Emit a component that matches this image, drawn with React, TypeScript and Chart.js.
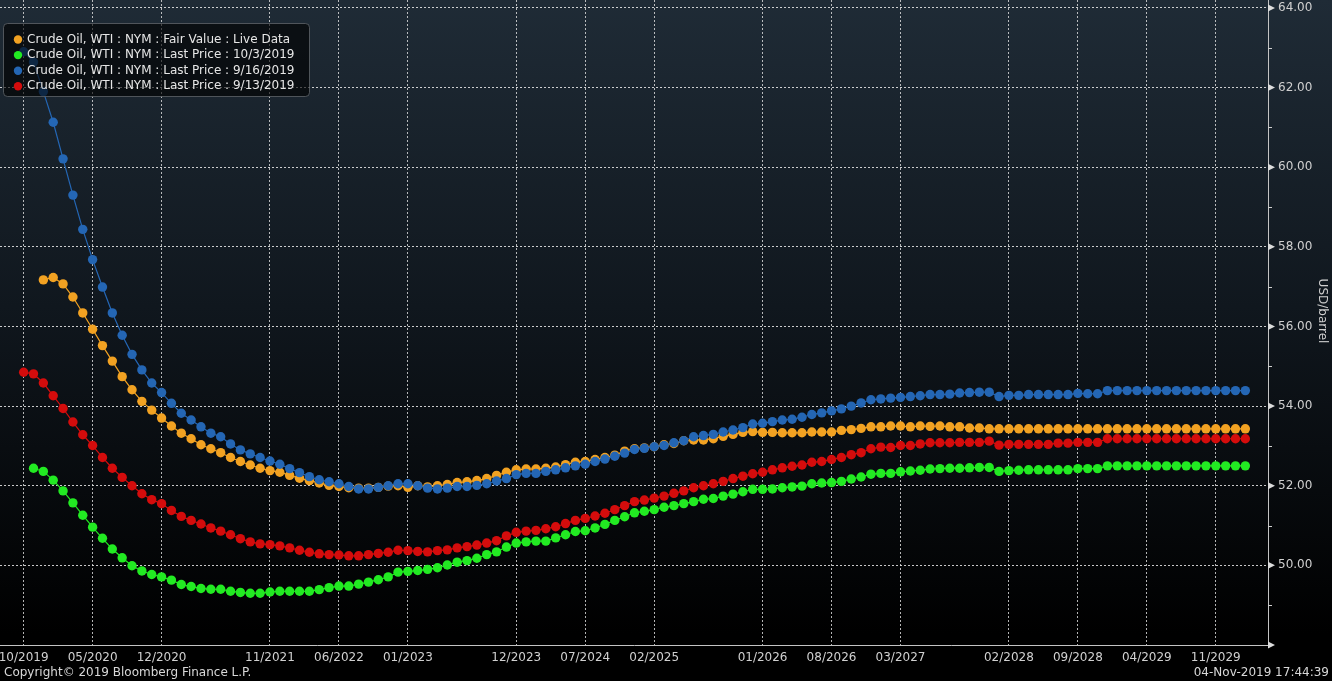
import React, { useEffect, useRef } from 'react';
import { Chart, registerables } from 'chart.js';

Chart.register(...registerables);

// ---- Data (month index 0 = 10/2019) ----
const seriesLabels = [
  'Crude Oil, WTI : NYM : Fair Value : Live Data',
  'Crude Oil, WTI : NYM : Last Price : 10/3/2019',
  'Crude Oil, WTI : NYM : Last Price : 9/16/2019',
  'Crude Oil, WTI : NYM : Last Price : 9/13/2019',
];

const xTickIndex = [0, 7, 14, 25, 32, 39, 50, 57, 64, 75, 82, 89, 100, 107, 114, 121];
const xTickLabels = [
  '10/2019', '05/2020', '12/2020', '11/2021', '06/2022', '01/2023', '12/2023', '07/2024',
  '02/2025', '01/2026', '08/2026', '03/2027', '02/2028', '09/2028', '04/2029', '11/2029',
];

const yTickValues = [48, 49, 50, 51, 52, 53, 54, 55, 56, 57, 58, 59, 60, 61, 62, 63, 64];
const yLabelValues = [50, 52, 54, 56, 58, 60, 62, 64];

const fairValue: (number | null)[] = [
  null, null, 57.17, 57.23, 57.07, 56.74, 56.34, 55.93, 55.52, 55.13,
  54.74, 54.41, 54.12, 53.90, 53.70, 53.50, 53.32, 53.18, 53.03, 52.93,
  52.83, 52.71, 52.61, 52.52, 52.44, 52.38, 52.34, 52.26, 52.19, 52.13,
  52.07, 52.01, 51.98, 51.95, 51.94, 51.94, 51.96, 51.99, 52.00, 51.96,
  52.00, 51.97, 52.00, 52.03, 52.08, 52.10, 52.13, 52.18, 52.26, 52.34,
  52.40, 52.42, 52.42, 52.44, 52.47, 52.53, 52.59, 52.61, 52.66, 52.71,
  52.77, 52.87, 52.93, 52.95, 52.98, 53.03, 53.06, 53.13, 53.15, 53.15,
  53.18, 53.24, 53.29, 53.34, 53.36, 53.34, 53.34, 53.33, 53.33, 53.33,
  53.35, 53.35, 53.35, 53.39, 53.41, 53.44, 53.48, 53.48, 53.50, 53.50,
  53.48, 53.50, 53.49, 53.50, 53.48, 53.48, 53.45, 53.45, 53.43, 53.43,
  53.43, 53.43, 53.43, 53.43, 53.43, 53.43, 53.43, 53.43, 53.43, 53.43,
  53.43, 53.43, 53.43, 53.43, 53.43, 53.43, 53.43, 53.43, 53.43, 53.43,
  53.43, 53.43, 53.43, 53.43, 53.43,
];

const last1003: (number | null)[] = [
  null, 52.44, 52.36, 52.14, 51.87, 51.57, 51.26, 50.96, 50.68, 50.41,
  50.19, 49.99, 49.86, 49.77, 49.71, 49.63, 49.52, 49.47, 49.42, 49.40,
  49.40, 49.35, 49.32, 49.30, 49.30, 49.33, 49.35, 49.35, 49.35, 49.35,
  49.39, 49.44, 49.48, 49.48, 49.53, 49.58, 49.64, 49.71, 49.83, 49.85,
  49.87, 49.90, 49.94, 50.01, 50.08, 50.12, 50.18, 50.27, 50.34, 50.46,
  50.56, 50.59, 50.61, 50.61, 50.69, 50.77, 50.85, 50.87, 50.94, 51.03,
  51.13, 51.22, 51.32, 51.36, 51.40, 51.46, 51.50, 51.55, 51.60, 51.66,
  51.68, 51.74, 51.79, 51.85, 51.91, 51.91, 51.92, 51.95, 51.97, 51.99,
  52.05, 52.07, 52.08, 52.11, 52.17, 52.22, 52.29, 52.31, 52.31, 52.35,
  52.37, 52.39, 52.42, 52.43, 52.44, 52.44, 52.45, 52.46, 52.46, 52.36,
  52.38, 52.39, 52.40, 52.40, 52.40, 52.40, 52.40, 52.43, 52.43, 52.43,
  52.50, 52.50, 52.50, 52.50, 52.50, 52.50, 52.50, 52.50, 52.50, 52.50,
  52.50, 52.50, 52.50, 52.50, 52.50,
];

const last0916: (number | null)[] = [
  62.90, 62.64, 61.90, 61.13, 60.21, 59.30, 58.44, 57.68, 56.99, 56.34,
  55.78, 55.30, 54.91, 54.58, 54.34, 54.07, 53.82, 53.65, 53.48, 53.32,
  53.23, 53.05, 52.90, 52.80, 52.71, 52.62, 52.54, 52.43, 52.33, 52.23,
  52.15, 52.10, 52.05, 51.98, 51.92, 51.92, 51.96, 52.00, 52.05, 52.05,
  52.00, 51.94, 51.92, 51.94, 51.98, 51.98, 52.01, 52.05, 52.12, 52.18,
  52.28, 52.31, 52.31, 52.36, 52.40, 52.45, 52.50, 52.54, 52.61, 52.67,
  52.74, 52.82, 52.91, 52.94, 52.98, 53.01, 53.08, 53.13, 53.23, 53.26,
  53.29, 53.35, 53.40, 53.46, 53.55, 53.57, 53.61, 53.65, 53.67, 53.72,
  53.79, 53.83, 53.88, 53.93, 54.00, 54.08, 54.16, 54.18, 54.20, 54.22,
  54.24, 54.26, 54.29, 54.29, 54.30, 54.33, 54.34, 54.35, 54.35, 54.24,
  54.27, 54.27, 54.29, 54.29, 54.29, 54.29, 54.29, 54.32, 54.31, 54.31,
  54.39, 54.39, 54.39, 54.39, 54.39, 54.39, 54.39, 54.39, 54.39, 54.39,
  54.39, 54.39, 54.39, 54.39, 54.39,
];

const last0913: (number | null)[] = [
  54.85, 54.81, 54.58, 54.26, 53.94, 53.60, 53.28, 53.01, 52.71, 52.44,
  52.21, 52.00, 51.80, 51.65, 51.55, 51.38, 51.23, 51.13, 51.04, 50.94,
  50.86, 50.77, 50.67, 50.59, 50.54, 50.52, 50.49, 50.44, 50.38, 50.33,
  50.29, 50.27, 50.26, 50.24, 50.24, 50.27, 50.30, 50.33, 50.38, 50.37,
  50.35, 50.34, 50.37, 50.39, 50.44, 50.47, 50.51, 50.56, 50.62, 50.74,
  50.83, 50.86, 50.88, 50.92, 50.97, 51.05, 51.13, 51.18, 51.24, 51.31,
  51.40, 51.50, 51.60, 51.64, 51.69, 51.74, 51.81, 51.87, 51.95, 52.00,
  52.05, 52.11, 52.18, 52.24, 52.30, 52.34, 52.40, 52.45, 52.49, 52.52,
  52.59, 52.61, 52.66, 52.71, 52.78, 52.83, 52.93, 52.97, 52.96, 53.01,
  53.01, 53.05, 53.08, 53.08, 53.08, 53.09, 53.09, 53.09, 53.12, 53.02,
  53.04, 53.04, 53.04, 53.04, 53.04, 53.07, 53.07, 53.09, 53.09, 53.09,
  53.18, 53.18, 53.18, 53.18, 53.18, 53.18, 53.18, 53.18, 53.18, 53.18,
  53.18, 53.18, 53.18, 53.18, 53.18,
];

const seriesValues = [fairValue, last1003, last0916, last0913];
const seriesColors = ['#f2a222', '#22ea22', '#2466b4', '#d40c0c'];
const seriesOrder = [1, 3, 0, 2];

const FONT = 'DejaVu Sans';
const copyrightText = 'Copyright\u00A9 2019 Bloomberg Finance L.P.';
const stampText = '04-Nov-2019 17:44:39';
const yTitle = 'USD/barrel';

const AREA = { left: 0, top: 0, right: 1268, bottom: 645 };

const toXY = (arr: (number | null)[]) => arr.map((v, i) => ({ x: i, y: v }));

const overlayPlugin = {
  id: 'bbgOverlay',
  afterLayout(chart: any) {
    const { left, top, right, bottom } = AREA;
    chart.chartArea = { left, top, right, bottom, width: right - left, height: bottom - top };
    const xs = chart.scales.x;
    xs.left = left; xs.right = right; xs.width = right - left;
    xs.top = bottom; xs.bottom = chart.height; xs.height = chart.height - bottom;
    xs.configure();
    const ys = chart.scales.y;
    ys.top = top; ys.bottom = bottom; ys.height = bottom - top;
    ys.left = right; ys.right = chart.width; ys.width = chart.width - right;
    ys.configure();
  },
  beforeDraw(chart: any) {
    const { ctx, width, height } = chart;
    const g = ctx.createLinearGradient(0, 0, 0, height);
    g.addColorStop(0, '#1f2b36');
    g.addColorStop(0.45, '#10171e');
    g.addColorStop(0.93, '#000000');
    g.addColorStop(1, '#000000');
    ctx.save();
    ctx.fillStyle = g;
    ctx.fillRect(0, 0, width, height);
    ctx.restore();
  },
  afterDraw(chart: any) {
    const { ctx, chartArea } = chart;
    const ys = chart.scales.y;
    ctx.save();
    // y tick markers
    ctx.fillStyle = '#dcdcdc';
    ctx.strokeStyle = '#cfcfcf';
    ctx.lineWidth = 1;
    yTickValues.forEach((v) => {
      const py = ys.getPixelForValue(v);
      const x0 = chartArea.right;
      if (v % 2 === 0) {
        ctx.beginPath();
        ctx.moveTo(x0, py - 3.5);
        ctx.lineTo(x0 + 7, py);
        ctx.lineTo(x0, py + 3.5);
        ctx.closePath();
        ctx.fill();
      } else {
        ctx.beginPath();
        ctx.moveTo(x0, Math.round(py) + 0.5);
        ctx.lineTo(x0 + 4, Math.round(py) + 0.5);
        ctx.stroke();
      }
    });

    // y axis title
    ctx.save();
    ctx.translate(1322, 311);
    ctx.rotate(Math.PI / 2);
    ctx.fillStyle = '#cfcfcf';
    ctx.font = `12px "${FONT}"`;
    ctx.textAlign = 'center';
    ctx.textBaseline = 'middle';
    ctx.fillText(yTitle, 0, 0);
    ctx.restore();

    // footer texts
    ctx.fillStyle = '#d8d8d8';
    ctx.font = `12px "${FONT}"`;
    ctx.textBaseline = 'middle';
    ctx.textAlign = 'left';
    ctx.fillText(copyrightText, 4, 673);
    ctx.textAlign = 'right';
    ctx.fillText(stampText, 1329, 673);

    // legend
    const lx = 3.5, ly = 23.5, lw = 306, lh = 73, r = 4;
    ctx.beginPath();
    ctx.moveTo(lx + r, ly);
    ctx.lineTo(lx + lw - r, ly);
    ctx.quadraticCurveTo(lx + lw, ly, lx + lw, ly + r);
    ctx.lineTo(lx + lw, ly + lh - r);
    ctx.quadraticCurveTo(lx + lw, ly + lh, lx + lw - r, ly + lh);
    ctx.lineTo(lx + r, ly + lh);
    ctx.quadraticCurveTo(lx, ly + lh, lx, ly + lh - r);
    ctx.lineTo(lx, ly + r);
    ctx.quadraticCurveTo(lx, ly, lx + r, ly);
    ctx.closePath();
    ctx.fillStyle = 'rgba(0,0,0,0.62)';
    ctx.fill();
    ctx.strokeStyle = 'rgba(95,100,105,0.8)';
    ctx.lineWidth = 1;
    ctx.stroke();

    ctx.font = `12px "${FONT}"`;
    ctx.textAlign = 'left';
    ctx.textBaseline = 'middle';
    chart.data.datasets.forEach((ds: any, i: number) => {
      const cy = 39.5 + i * 15.6;
      ctx.beginPath();
      ctx.arc(18, cy, 4.2, 0, Math.PI * 2);
      ctx.fillStyle = ds.pointBackgroundColor;
      ctx.fill();
      ctx.fillStyle = '#e6e6e6';
      ctx.fillText(ds.label, 27, cy);
    });
    ctx.restore();
  },
};

export default function App() {
  const ref = useRef<HTMLCanvasElement>(null);

  useEffect(() => {
    document.body.style.margin = '0';
    document.body.style.background = '#000';
    Chart.defaults.font.family = FONT;

    const datasets = seriesValues.map((vals, i) => ({
      label: seriesLabels[i],
      data: toXY(vals),
      borderColor: seriesColors[i],
      backgroundColor: seriesColors[i],
      pointBackgroundColor: seriesColors[i],
      pointBorderColor: seriesColors[i],
      pointBorderWidth: 0,
      pointRadius: 4.7,
      borderWidth: 1.2,
      tension: 0,
      order: seriesOrder[i],
    }));

    const chart = new Chart(ref.current as HTMLCanvasElement, {
      type: 'line',
      data: { datasets },
      plugins: [overlayPlugin],
      options: {
        animation: false,
        responsive: false,
        devicePixelRatio: 1,
        events: [],
        layout: { padding: 0 },
        plugins: {
          legend: { display: false },
          tooltip: { enabled: false },
        },
        scales: {
          x: {
            type: 'linear',
            min: -2.4,
            max: 126.3,
            afterBuildTicks: (s: any) => {
              s.ticks = xTickIndex.map((v) => ({ value: v }));
            },
            afterFit: (s: any) => {
              s.height = 36;
              s.paddingLeft = 0;
              s.paddingRight = 0;
            },
            ticks: {
              autoSkip: false,
              maxRotation: 0,
              padding: 6,
              color: '#d0d0d0',
              font: { family: FONT, size: 12 },
              callback: (_v: any, i: number) => xTickLabels[i],
            },
            grid: {
              color: 'rgba(225,225,225,0.8)',
              lineWidth: 1,
              drawTicks: false,
            },
            border: { display: true, color: '#c4c4c4', width: 1, dash: [2, 2] },
          },
          y: {
            type: 'linear',
            position: 'right',
            min: 48,
            max: 64.2,
            afterBuildTicks: (s: any) => {
              s.ticks = yTickValues.map((v) => ({ value: v }));
            },
            afterFit: (s: any) => {
              s.width = 64;
              s.paddingTop = 0;
              s.paddingBottom = 0;
            },
            ticks: {
              autoSkip: false,
              padding: 10,
              color: '#d0d0d0',
              font: { family: FONT, size: 12 },
              callback: (v: any) => (yLabelValues.includes(v) ? Number(v).toFixed(2) : ''),
            },
            grid: {
              color: (c: any) =>
                c.tick && yLabelValues.includes(c.tick.value) ? 'rgba(235,235,235,0.85)' : 'rgba(0,0,0,0)',
              lineWidth: 1,
              drawTicks: false,
            },
            border: { display: true, color: '#c4c4c4', width: 1, dash: [2, 2] },
          },
        },
      },
    } as any);

    return () => chart.destroy();
  }, []);

  return (
    <div style={{ width: 1332, height: 681 }}>
      <canvas ref={ref} width={1332} height={681} style={{ display: 'block' }} />
    </div>
  );
}
